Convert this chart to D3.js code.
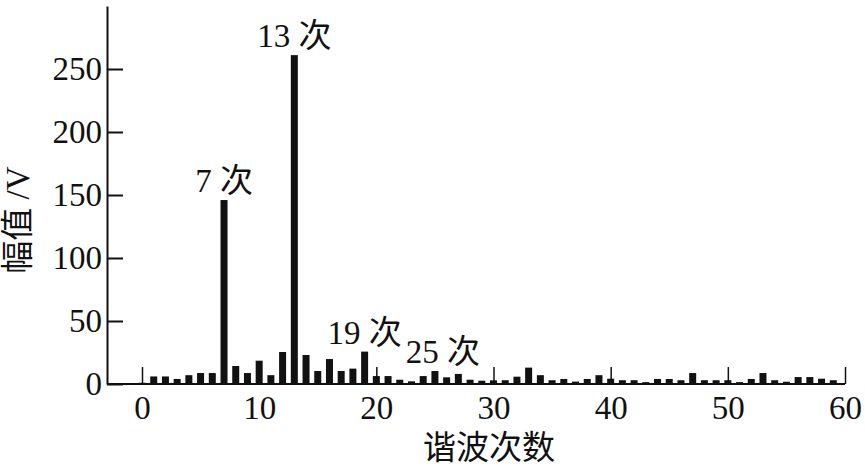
<!DOCTYPE html>
<html>
<head>
<meta charset="utf-8">
<script src="https://cdn.jsdelivr.net/npm/d3@7/dist/d3.min.js"></script>
<style>
  html, body { margin: 0; padding: 0; background: #fff; }
  svg { display: block; }
  text { font-family: "Liberation Serif", "Noto Sans CJK SC", serif; fill: #111; }
</style>
</head>
<body>
<svg id="chart" width="865" height="467"></svg>
<script>
// Harmonic order of each bar (0 .. 59)
const harmonicOrders = [0,1,2,3,4,5,6,7,8,9,10,11,12,13,14,15,16,17,18,19,
  20,21,22,23,24,25,26,27,28,29,30,31,32,33,34,35,36,37,38,39,
  40,41,42,43,44,45,46,47,48,49,50,51,52,53,54,55,56,57,58,59];
// Amplitude (V) of each harmonic
const amplitudes = [1,6,6,4,7,8.7,8.7,146,14.3,8.7,
  18.5,7,25.4,261,23,10.3,19.8,10.3,12.2,25.7,
  6.3,6.3,3.4,2.1,6.3,10.3,5.3,8,3.4,2.6,
  2.9,3,5.8,13,7,3,4,1.9,4,7,
  4.2,3,3,1.5,4,4,3,8.7,3,3,
  3,1.5,4,8.7,3,1.8,5.5,5.5,4.2,3];
const xTicks = [0,10,20,30,40,50,60];
const yTicks = [0,50,100,150,200,250];
const annotatedOrders = [7,13,19,25];
const annotationLabels = ["7 次","13 次","19 次","25 次"];
const xTitle = "谐波次数";
const yTitle = "幅值 /V";

const svg = d3.select("#chart");
const x = d3.scaleLinear().domain([0,60]).range([142,845]);
const y = d3.scaleLinear().domain([0,300]).range([384,6]);
const barW = 7;
const fs = 33;

// bars
svg.append("g").selectAll("rect")
  .data(harmonicOrders)
  .join("rect")
  .attr("x", d => x(d) - barW/2)
  .attr("width", barW)
  .attr("y", (d,i) => y(amplitudes[i]))
  .attr("height", (d,i) => y(0) - y(amplitudes[i]))
  .attr("fill", "#111");

// y axis
const yAxis = svg.append("g")
  .attr("transform", "translate(107,0)")
  .call(d3.axisLeft(y).tickValues(yTicks).tickSizeInner(-16).tickSizeOuter(0).tickPadding(5));
yAxis.select(".domain").attr("stroke", "#111").attr("stroke-width", 2);
yAxis.selectAll(".tick line").attr("stroke", "#111").attr("stroke-width", 2);
yAxis.selectAll(".tick text").attr("font-size", fs).attr("font-family", "Liberation Serif").attr("fill", "#111");

// x axis
const xAxis = svg.append("g")
  .attr("transform", "translate(0,384)")
  .call(d3.axisBottom(x).tickValues(xTicks).tickSizeInner(-17).tickSizeOuter(0).tickPadding(12));
xAxis.select(".domain").remove();
xAxis.selectAll(".tick line").attr("stroke", "#111").attr("stroke-width", 1.5);
xAxis.selectAll(".tick text").attr("font-size", fs).attr("font-family", "Liberation Serif").attr("fill", "#111");
svg.append("line")
  .attr("x1", 107).attr("x2", x(60))
  .attr("y1", y(0)).attr("y2", y(0))
  .attr("stroke", "#111").attr("stroke-width", 2);

// annotations
svg.append("g").selectAll("text")
  .data(annotatedOrders)
  .join("text")
  .attr("x", d => x(d) + (d === 25 ? 8 : 0))
  .attr("y", d => y(amplitudes[d]) - 8)
  .attr("text-anchor", "middle")
  .attr("font-size", fs)
  .text((d,i) => annotationLabels[i]);

// axis titles
svg.append("text")
  .attr("x", 489).attr("y", 459)
  .attr("text-anchor", "middle")
  .attr("font-size", fs)
  .attr("font-family", "Noto Sans CJK SC")
  .text(xTitle);
svg.append("text")
  .attr("transform", "translate(29,220) rotate(-90)")
  .attr("text-anchor", "middle")
  .attr("font-size", fs)
  .text(yTitle);
</script>
</body>
</html>
